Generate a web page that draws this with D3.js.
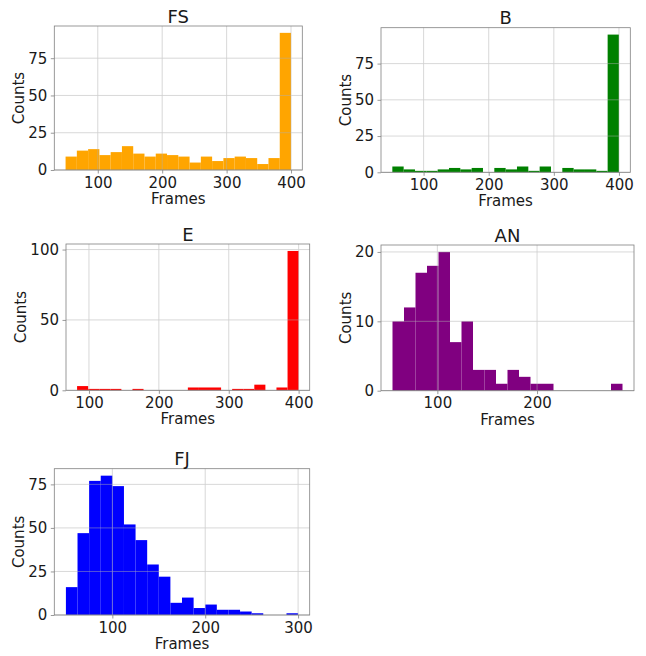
<!DOCTYPE html>
<html>
<head>
<meta charset="utf-8">
<script src="https://cdn.jsdelivr.net/npm/d3@7"></script>
<style>
  html, body { margin: 0; padding: 0; background: #fff; }
  svg { display: block; }
  text { font-family: "DejaVu Sans", sans-serif; fill: #1a1a1a; }
</style>
</head>
<body>
<svg id="chart" width="646" height="656"></svg>
<script>
// ---------------- data ----------------
const titles = ["FS", "B", "E", "AN", "FJ"];

const countsFS = [9, 13, 14, 10, 12, 16, 11, 9, 11, 10, 9, 5, 9, 6, 8, 9, 8, 4, 8, 92];
const countsB  = [4, 2, 1, 1, 2, 3, 2, 3, 0, 3, 2, 4, 1, 4, 0, 3, 2, 2, 1, 95];
const countsE  = [3, 1, 1, 1, 0, 1, 0, 0, 0, 0, 2, 2, 2, 0, 1, 1, 4, 0, 2, 99];
const countsAN = [10, 12, 17, 18, 20, 7, 10, 3, 3, 1, 3, 2, 1, 1, 0, 0, 0, 0, 0, 1];
const countsFJ = [16, 47, 77, 80, 74, 52, 43, 29, 22, 7, 10, 4, 6, 3, 3, 2, 1, 0, 0, 1];

// data range [min, max] covered by the 20 bins of each histogram
const rangeFS = [50, 400];
const rangeB  = [52, 400];
const rangeE  = [83, 400];
const rangeAN = [55, 285.7];
const rangeFJ = [50, 300];

const xTicksFS = [100, 200, 300, 400];
const xTicksB  = [100, 200, 300, 400];
const xTicksE  = [100, 200, 300, 400];
const xTicksAN = [100, 200];
const xTicksFJ = [100, 200, 300];

const yTicksFS = [0, 25, 50, 75];
const yTicksB  = [0, 25, 50, 75];
const yTicksE  = [0, 50, 100];
const yTicksAN = [0, 10, 20];
const yTicksFJ = [0, 25, 50, 75];

const xLabel = "Frames";
const yLabel = "Counts";

// ---------------- style / layout ----------------
const colors = ["#FFA500", "#008000", "#FF0000", "#800080", "#0000FF"];
const boxes = [
  { l: 54.3, r: 302.3, t: 26.0,  b: 170.0 },
  { l: 381.0, r: 630.3, t: 27.7, b: 172.3 },
  { l: 66.0, r: 309.7, t: 244.0, b: 390.3 },
  { l: 381.0, r: 634.0, t: 245.0, b: 390.7 },
  { l: 54.3, r: 309.7, t: 468.7, b: 615.0 }
];

const panels = [
  { title: titles[0], counts: countsFS, range: rangeFS, xt: xTicksFS, yt: yTicksFS },
  { title: titles[1], counts: countsB,  range: rangeB,  xt: xTicksB,  yt: yTicksB },
  { title: titles[2], counts: countsE,  range: rangeE,  xt: xTicksE,  yt: yTicksE },
  { title: titles[3], counts: countsAN, range: rangeAN, xt: xTicksAN, yt: yTicksAN },
  { title: titles[4], counts: countsFJ, range: rangeFJ, xt: xTicksFJ, yt: yTicksFJ }
];

const svg = d3.select("#chart");
const tickFont = 15, labelFont = 15, titleFont = 18;
const spineColor = "#808080";
const gridColor = "#b0b0b0";

panels.forEach((p, i) => {
  const box = boxes[i];
  const n = p.counts.length;
  const [lo, hi] = p.range;
  const w = (hi - lo) / n;
  const bins = p.counts.map((c, k) => ({ x0: lo + k * w, x1: lo + (k + 1) * w, c }));
  const margin = (hi - lo) * 0.05;
  const ymax = d3.max(p.counts) * 1.05;

  const x = d3.scaleLinear().domain([lo - margin, hi + margin]).range([box.l, box.r]);
  const y = d3.scaleLinear().domain([0, ymax]).range([box.b, box.t]);

  const g = svg.append("g");

  // bars
  g.append("g").selectAll("rect").data(bins).join("rect")
    .attr("x", d => x(d.x0))
    .attr("width", d => Math.max(0, x(d.x1) - x(d.x0)))
    .attr("y", d => y(d.c))
    .attr("height", d => y(0) - y(d.c))
    .attr("fill", colors[i]);

  // grid (drawn above bars)
  const grid = g.append("g").attr("stroke", gridColor).attr("stroke-width", 0.8).attr("opacity", 0.6);
  p.xt.forEach(v => grid.append("line")
    .attr("x1", x(v)).attr("x2", x(v)).attr("y1", box.t).attr("y2", box.b));
  p.yt.forEach(v => grid.append("line")
    .attr("x1", box.l).attr("x2", box.r).attr("y1", y(v)).attr("y2", y(v)));

  // axes
  const xAxis = d3.axisBottom(x).tickValues(p.xt).tickSize(3.5).tickPadding(3.5).tickSizeOuter(0);
  const yAxis = d3.axisLeft(y).tickValues(p.yt).tickSize(3.5).tickPadding(3.5).tickSizeOuter(0);

  const gx = g.append("g").attr("transform", `translate(0,${box.b})`).call(xAxis);
  const gy = g.append("g").attr("transform", `translate(${box.l},0)`).call(yAxis);
  [gx, gy].forEach(a => {
    a.select(".domain").remove();
    a.selectAll(".tick line").attr("stroke", spineColor).attr("stroke-width", 0.8);
    a.selectAll(".tick text").attr("font-size", tickFont)
      .attr("font-family", "DejaVu Sans, sans-serif").attr("fill", "#1a1a1a");
  });

  // frame
  g.append("rect")
    .attr("x", box.l).attr("y", box.t)
    .attr("width", box.r - box.l).attr("height", box.b - box.t)
    .attr("fill", "none").attr("stroke", spineColor).attr("stroke-width", 0.8);

  // title
  g.append("text")
    .attr("x", (box.l + box.r) / 2).attr("y", box.t - 3.5)
    .attr("text-anchor", "middle").attr("font-size", titleFont)
    .text(p.title);

  // x label
  g.append("text")
    .attr("x", (box.l + box.r) / 2).attr("y", box.b + 34)
    .attr("text-anchor", "middle").attr("font-size", labelFont)
    .text(xLabel);

  // y label: placed left of tick labels
  let minX = box.l;
  gy.selectAll(".tick text").each(function() {
    const bb = this.getBoundingClientRect();
    minX = Math.min(minX, bb.left);
  });
  const lx = minX - 4;
  g.append("text")
    .attr("transform", `translate(${lx},${(box.t + box.b) / 2}) rotate(-90)`)
    .attr("text-anchor", "middle").attr("font-size", labelFont)
    .text(yLabel);
});
</script>
</body>
</html>
